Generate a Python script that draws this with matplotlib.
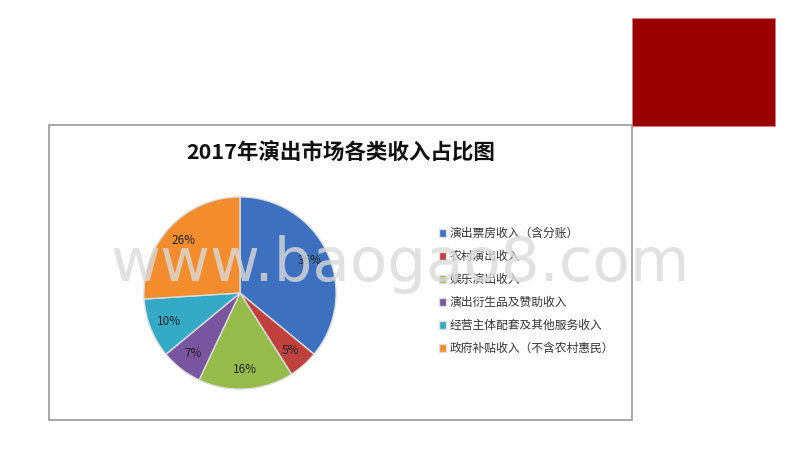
import matplotlib.pyplot as plt
from matplotlib.patches import Rectangle

plt.rcParams['font.family'] = ['Noto Sans CJK SC', 'DejaVu Sans']

title = "2017年演出市场各类收入占比图"
labels = ["演出票房收入（含分账）", "农村演出收入", "娱乐演出收入",
          "演出衍生品及赞助收入", "经营主体配套及其他服务收入",
          "政府补贴收入（不含农村惠民）"]
shares = [36, 5, 16, 7, 10, 26]
colors = ["#3d70bf", "#c0403d", "#96bb4a", "#7a559f", "#35aac6", "#f28c2c"]

W, H = 800, 450
fig = plt.figure(figsize=(8, 4.5), dpi=100)

# chart frame and red block
fig.patches.append(Rectangle((49 / W, 1 - 420 / H), (632 - 49) / W, (420 - 125) / H,
                             transform=fig.transFigure, facecolor="white",
                             edgecolor="#999999", linewidth=1.2, zorder=-2))
fig.patches.append(Rectangle((632 / W, 1 - 126 / H), (775 - 632) / W, (126 - 18) / H,
                             transform=fig.transFigure, facecolor="#990000",
                             edgecolor="#d88080", linewidth=0.6, zorder=-1))

fig.text(341 / W, 1 - 152 / H, title, ha="center", va="center",
         fontsize=15.5, fontweight="bold", color="#111111")

cx, cy, r = 240, 293, 98
ax = fig.add_axes([(cx - r) / W, (H - cy - r) / H, 2 * r / W, 2 * r / H])
ax.set_zorder(2)
wedges, texts, autotexts = ax.pie(shares, colors=colors, startangle=90, counterclock=False,
                                  autopct="%d%%", pctdistance=0.8,
                                  wedgeprops=dict(edgecolor="#dddddd", linewidth=1),
                                  textprops=dict(fontsize=8.5, color="#222222"))
ax.set_xlim(-1.02, 1.02)
ax.set_ylim(-1.02, 1.02)
ax.set_aspect("equal")

fig.legend(wedges, labels, loc="upper left", bbox_to_anchor=(439 / W, 1 - 227 / H),
           frameon=False, fontsize=8.5, handlelength=0.6, handleheight=0.6,
           handletextpad=0.3, labelspacing=0.85, borderaxespad=0, borderpad=0,
           labelcolor="#333333")

# watermark
wm = fig.text(400 / W, 1 - 265 / H, "www.baogao8.com", ha="center", va="center",
              fontsize=44, color="#dadada", alpha=0.8, family="DejaVu Sans")
wm.set_zorder(10)

fig.savefig("out.png", dpi=100)
